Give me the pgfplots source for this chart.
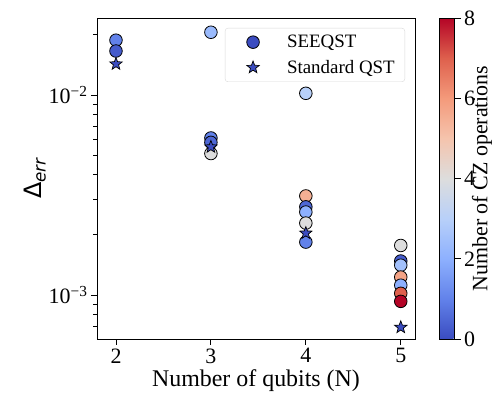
\documentclass[border=0pt]{standalone}
\usepackage{fontspec}
\setmainfont{Liberation Serif}
\newfontfamily\dejavu{DejaVu Sans}
\usepackage{pgfplots}
\pgfplotsset{compat=1.18}
\pgfkeys{/pgf/number format/assume math mode=true}
\definecolor{czzero}{RGB}{59,76,192}
\pgfdeclareplotmark{fstar}{%
  \pgfpathmoveto{\pgfpointpolar{90}{\pgfplotmarksize}}%
  \pgfpathlineto{\pgfpointpolar{126}{0.42\pgfplotmarksize}}%
  \pgfpathlineto{\pgfpointpolar{162}{\pgfplotmarksize}}%
  \pgfpathlineto{\pgfpointpolar{198}{0.42\pgfplotmarksize}}%
  \pgfpathlineto{\pgfpointpolar{234}{\pgfplotmarksize}}%
  \pgfpathlineto{\pgfpointpolar{270}{0.42\pgfplotmarksize}}%
  \pgfpathlineto{\pgfpointpolar{306}{\pgfplotmarksize}}%
  \pgfpathlineto{\pgfpointpolar{342}{0.42\pgfplotmarksize}}%
  \pgfpathlineto{\pgfpointpolar{18}{\pgfplotmarksize}}%
  \pgfpathlineto{\pgfpointpolar{54}{0.42\pgfplotmarksize}}%
  \pgfpathclose
  \pgfusepathqfillstroke}
\pgfplotsset{
  colormap={coolwarm}{rgb255(0cm)=(58,76,192); rgb255(1cm)=(98,130,234); rgb255(2cm)=(141,176,254); rgb255(3cm)=(184,208,249); rgb255(4cm)=(221,221,221); rgb255(5cm)=(245,196,173); rgb255(6cm)=(244,154,123); rgb255(7cm)=(222,96,77); rgb255(8cm)=(180,4,38)},
  mylegimg/.style={legend image code/.code={\path[draw=none, fill=none] (0bp,0bp) -- (52bp,0bp);\path[##1, draw=none] plot coordinates {(20bp,0bp)};}},
}
\pgfplotstableread{
x y c
2 0.0188 1.0
2 0.0166 0.3
3 0.0206 2.3
3 0.0061 1.0
3 0.0058 0.5
3 0.0051 4.0
4 0.0102 3.0
4 0.00313 5.5
4 0.00276 0.5
4 0.00260 2.0
4 0.00229 4.0
4 0.00184 1.0
5 0.00177 4.0
5 0.00148 0.3
5 0.00141 2.5
5 0.00123 5.8
5 0.00112 2.0
5 0.00102 7.0
5 0.00093 8.0
}\seeqst
\pgfplotstableread{
x y
2 0.0143
3 0.0055
4 0.00204
5 0.00069
}\standard
\begin{document}
\begin{tikzpicture}
\begin{axis}[
  name=ax,
  scale only axis,
  width=318bp, height=321bp,
  ymode=log,
  xmin=1.8, xmax=5.15,
  ymin=6.03e-4, ymax=0.02427,
  xtick={2,3,4,5},
  ytick={0.001,0.01},
  yticklabels={10\textsuperscript{−3},10\textsuperscript{−2}},
  minor ytick={0.0006,0.0007,0.0008,0.0009,0.002,0.003,0.004,0.005,0.006,0.007,0.008,0.009,0.02},
  xtick pos=bottom, ytick pos=left,
  tick align=outside,
  major tick length=6bp, minor tick length=3.5bp,
  every tick/.style={black, line width=0.9bp},
  axis line style={line width=0.9bp},
  tick label style={font=\fontsize{22}{24}\selectfont},
  label style={font=\fontsize{24}{26}\selectfont},
  xlabel={Number of qubits (N)},
  ylabel={{\dejavu Δ\textsubscript{\itshape err}}},
  ylabel shift=-4bp,
  colormap name=coolwarm,
  point meta min=0, point meta max=8,
  colorbar,
  colorbar style={
    at={(parent axis.north east)}, anchor=north west, xshift=16bp,
    width=15bp,
    ytick={0,2,4,6,8},
    ytick pos=right, yticklabel pos=right,
    tick align=outside,
    major tick length=6bp,
    every tick/.style={black, line width=0.9bp},
    axis line style={line width=0.6bp},
    tick label style={font=\fontsize{22}{24}\selectfont},
    ylabel={Number of CZ operations},
    ylabel style={font=\fontsize{22}{24}\selectfont},
    ylabel shift=-10bp,
  },
  legend style={at={(axis description cs:0.9686,0.969)}, anchor=north east,
    font=\fontsize{19}{22}\selectfont, draw=black!15, rounded corners=3bp,
    row sep=7bp, inner xsep=8bp, inner ysep=5bp},
  legend cell align=left,
]
\addlegendimage{only marks, mylegimg, mark=*, mark size=6.3bp, mark options={draw=black, fill=czzero, line width=0.8bp}}
\addlegendentry{SEEQST}
\addlegendimage{only marks, mylegimg, mark=fstar, mark size=6.5bp, mark options={draw=black, fill=czzero, line width=0.7bp}}
\addlegendentry{Standard QST}
\addplot[scatter, only marks, mark=*, mark size=6.3bp, point meta=explicit,
  scatter/use mapped color={draw=black, fill=mapped color}, line width=0.8bp, forget plot]
  table[x=x, y=y, meta=c]{\seeqst};
\addplot[only marks, mark=fstar, mark size=6.5bp, mark options={draw=black, fill=czzero, line width=0.7bp}, forget plot]
  table[x=x, y=y]{\standard};
\end{axis}
\pgfresetboundingbox
\useasboundingbox ([shift={(-97bp,-62bp)}]ax.south west) rectangle ([shift={(82bp,18bp)}]ax.north east);
\end{tikzpicture}
\end{document}
